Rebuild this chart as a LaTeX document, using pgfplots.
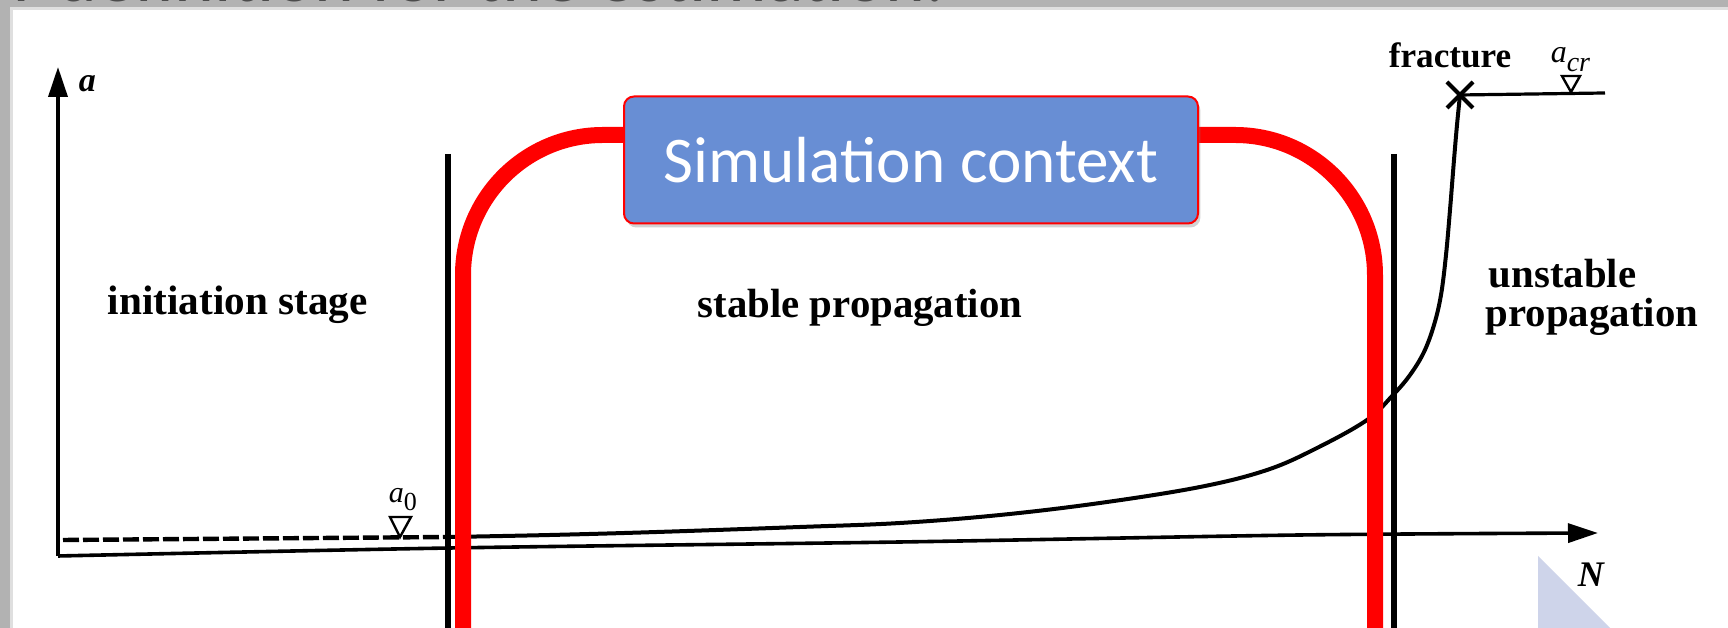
\documentclass[border=0pt]{standalone}
\usepackage{pgfplots}
\pgfplotsset{compat=1.18}
\usepackage{fontspec}
\setmainfont{Liberation Serif}
\newfontfamily\calibri{Carlito}
\usetikzlibrary{arrows.meta,shadows}
\definecolor{boxblue}{RGB}{104,142,212}
\definecolor{bandgray}{RGB}{178,178,178}
\definecolor{triblue}{RGB}{206,212,234}
\begin{document}
\begin{tikzpicture}
\begin{axis}[name=ax, width=432pt, height=157pt, scale only axis,
  xmin=0, xmax=1728, ymin=0, ymax=628, y dir=reverse,
  axis lines=none, clip=false]
% background
\fill[white] (axis cs:0,0) rectangle (axis cs:1728,628);
\fill[bandgray] (axis cs:0,0) rectangle (axis cs:1728,7);
\fill[gray!25] (axis cs:10,7) rectangle (axis cs:1728,10);
\fill[bandgray] (axis cs:0,0) rectangle (axis cs:10,628);
\fill[gray!25] (axis cs:10,7) rectangle (axis cs:13,628);
\node[anchor=base west, inner sep=0pt, text=black!70, font=\calibri\fontsize{19pt}{20pt}\selectfont] at (axis cs:13,2) {r definition for the estimation.};
% decorative triangle
\fill[triblue] (axis cs:1538,556) -- (axis cs:1538,628) -- (axis cs:1610,628) -- cycle;
% axes
\addplot[line width=0.9pt, -{Triangle[length=7.5pt,width=4.75pt]}] coordinates {(58,556) (58,67)};
\addplot[line width=0.9pt, smooth, -{Triangle[length=7.5pt,width=4.75pt]}] coordinates {(58,556) (450,548) (900,542) (1300,535) (1598,533)};
% initial crack (dashed)
\addplot[line width=1.1pt, dash pattern=on 4pt off 1pt] coordinates {(63,540) (450,537)};
% crack growth curve
\addplot[line width=1pt, smooth, tension=0.6] coordinates {
(450,537) (550,535) (657,532) (800,527) (900,523) (1000,515) (1100,503)
(1200,487) (1267,470) (1317,448) (1367,420) (1393,395) (1410,375)
(1424,352) (1434,325) (1441,295) (1446,255) (1450,210) (1454,160) (1457,125) (1460,95)};
% critical length line
\addplot[line width=0.8pt] coordinates {(1460,95) (1605,93)};
% fracture cross
\draw[line width=1pt] (axis cs:1447,82) -- (axis cs:1473,108);
\draw[line width=1pt] (axis cs:1447,108) -- (axis cs:1473,82);
% markers
\draw[line width=0.6pt] (axis cs:390,517) -- (axis cs:411,517) -- (axis cs:400,537) -- cycle;
\draw[line width=0.6pt] (axis cs:1562,76) -- (axis cs:1580,76) -- (axis cs:1571,92) -- cycle;
% stage boundaries
\addplot[line width=1.5pt] coordinates {(448,154) (448,628)};
\addplot[line width=1.5pt] coordinates {(1394,154) (1394,628)};
% red context frame
\draw[red, line width=4pt, rounded corners=35pt] (axis cs:463,640) -- (axis cs:463,135) -- (axis cs:1375,135) -- (axis cs:1375,640);
% simulation context box
\node[fill=boxblue, draw=red, line width=0.5pt, rounded corners=2.5pt, inner sep=0pt,
  minimum width=143.5pt, minimum height=31.75pt, text=white,
  drop shadow={opacity=0.35, shadow xshift=0.6pt, shadow yshift=-1pt},
  font=\calibri\fontsize{16.3pt}{18pt}\selectfont] at (axis cs:911,160) {Simulation context};
% labels
\node[anchor=base west, inner sep=0pt, font=\fontsize{10.3pt}{12pt}\selectfont\bfseries] at (axis cs:107,315) {initiation stage};
\node[anchor=base west, inner sep=0pt, font=\fontsize{10.2pt}{12pt}\selectfont\bfseries] at (axis cs:697,318) {stable propagation};
\node[anchor=base west, inner sep=0pt, font=\fontsize{10.2pt}{12pt}\selectfont\bfseries] at (axis cs:1488,288) {unstable};
\node[anchor=base west, inner sep=0pt, font=\fontsize{10.2pt}{12pt}\selectfont\bfseries] at (axis cs:1485,327) {propagation};
\node[anchor=base west, inner sep=0pt, font=\fontsize{8.8pt}{10pt}\selectfont\bfseries] at (axis cs:1388,68) {fracture};
\node[anchor=base west, inner sep=0pt, font=\fontsize{8.5pt}{10pt}\selectfont\bfseries\itshape] at (axis cs:78,92) {a};
\node[anchor=base west, inner sep=0pt, font=\fontsize{9pt}{10pt}\selectfont\bfseries\itshape] at (axis cs:1577,587) {N};
\node[anchor=base west, inner sep=0pt, font=\fontsize{7.5pt}{9pt}\selectfont] at (axis cs:388,503) {\textit{a}\raisebox{-2pt}{\fontsize{6.5pt}{7pt}\selectfont 0}};
\node[anchor=base west, inner sep=0pt, font=\fontsize{8pt}{9pt}\selectfont] at (axis cs:1550,63) {\textit{a}\raisebox{-2.2pt}{\fontsize{7pt}{7pt}\selectfont\itshape cr}};
\end{axis}
\pgfresetboundingbox
\useasboundingbox (ax.south west) rectangle (ax.north east);
\end{tikzpicture}
\end{document}
